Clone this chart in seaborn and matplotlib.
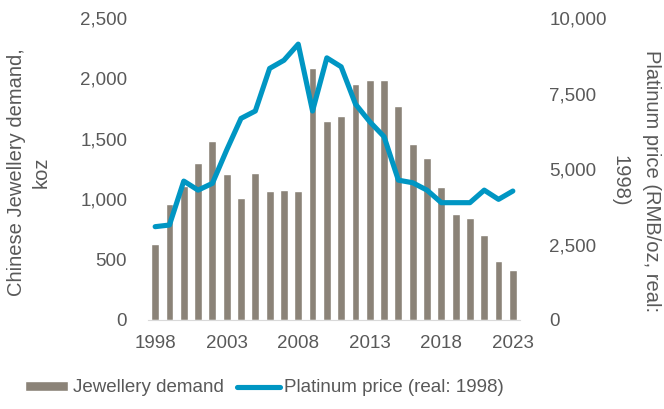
import matplotlib.pyplot as plt
import seaborn as sns
import pandas as pd

years = list(range(1998, 2024))
jewellery_demand = [630, 960, 1110, 1300, 1480, 1205, 1010, 1215, 1065, 1075, 1065,
                    2085, 1650, 1685, 1950, 1990, 1985, 1770, 1460, 1340, 1100,
                    875, 842, 704, 491, 417]
platinum_price = [3090, 3145, 4600, 4300, 4525, 5630, 6675, 6920, 8330, 8600, 9135,
                  6920, 8680, 8385, 7150, 6565, 6070, 4630, 4545, 4300, 3885,
                  3885, 3885, 4300, 3995, 4270]
x_ticks = [1998, 2003, 2008, 2013, 2018, 2023]

df = pd.DataFrame({'year': years, 'demand': jewellery_demand, 'price': platinum_price})

sns.set_style('white')
plt.rcParams['font.family'] = ['Liberation Sans', 'DejaVu Sans']
text_color = '#595959'
bar_color = '#8B8378'
line_color = '#0096C3'
fs = 13.5

fig = plt.figure(figsize=(6.64, 4.09), dpi=100)
ax = fig.add_axes([148 / 664, 89 / 409, 372 / 664, 302 / 409])

sns.barplot(data=df, x='year', y='demand', native_scale=True, width=0.55,
            color=bar_color, saturation=1, ax=ax, label='Jewellery demand')
ax2 = ax.twinx()
sns.lineplot(data=df, x='year', y='price', color=line_color, linewidth=3.7,
             ax=ax2, label='Platinum price (real: 1998)', legend=False)

ax.set_xlim(1997.5, 2023.5)
ax.set_ylim(0, 2500)
ax2.set_ylim(0, 10000)
ax.set_xticks(x_ticks)
ax.set_xticklabels([str(y) for y in x_ticks])
ax.set_yticks(range(0, 2501, 500))
ax.set_yticklabels([f'{v:,}' for v in range(0, 2501, 500)])
ax2.set_yticks(range(0, 10001, 2500))
ax2.set_yticklabels([f'{v:,}' for v in range(0, 10001, 2500)])

for a in (ax, ax2):
    for s in a.spines.values():
        s.set_visible(False)
    a.tick_params(length=0, colors=text_color, labelsize=fs)
ax.spines['bottom'].set_visible(True)
ax.spines['bottom'].set_color('#D9D9D9')
ax.tick_params(axis='y', pad=15)
ax.tick_params(axis='x', pad=11)
ax2.tick_params(axis='y', pad=21)
ax.set_xlabel('')
ax.set_ylabel('')
ax2.set_xlabel('')
ax2.set_ylabel('')

fig.text(29 / 664, 1 - 172 / 409, 'Chinese Jewellery demand,\nkoz', fontsize=14.5,
         color=text_color, rotation=90, ha='center', va='center',
         multialignment='center', linespacing=1.35)
fig.text(636 / 664, 1 - 181 / 409, 'Platinum price (RMB/oz, real:\n1998)', fontsize=14.5,
         color=text_color, rotation=270, ha='center', va='center',
         multialignment='center', linespacing=1.85)

handles = ax.get_legend_handles_labels()[0] + ax2.get_legend_handles_labels()[0]
labels = ax.get_legend_handles_labels()[1] + ax2.get_legend_handles_labels()[1]
if ax.get_legend():
    ax.get_legend().remove()
fig.legend(handles, labels, loc='center left', bbox_to_anchor=(8 / 664, 1 - 388 / 409),
           ncol=2, frameon=False, fontsize=fs, labelcolor=text_color,
           handlelength=2.3, handleheight=0.4, handletextpad=0.25, columnspacing=0.7)

fig.savefig('out.png', dpi=100)
